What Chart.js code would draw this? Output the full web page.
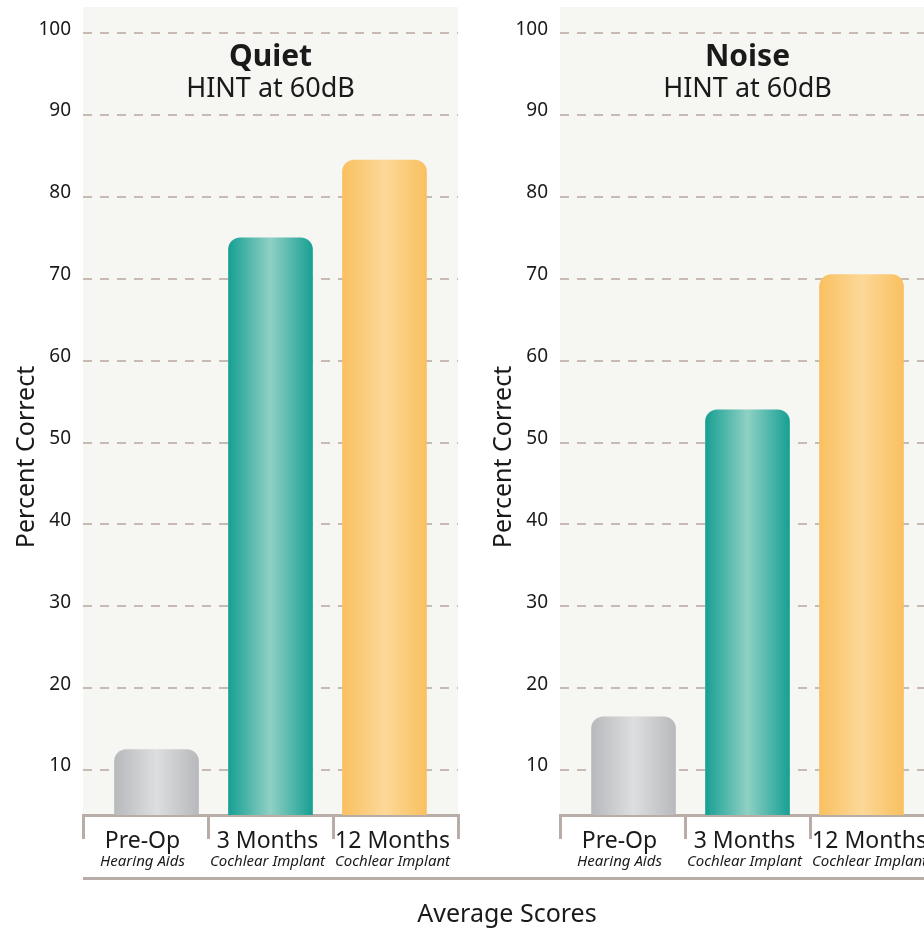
<!DOCTYPE html>
<html>
<head>
<meta charset="utf-8">
<script src="https://cdn.jsdelivr.net/npm/chart.js@4"></script>
<style>
  html, body { margin: 0; padding: 0; background: #fff; }
  body { width: 924px; height: 928px; position: relative; overflow: hidden; font-family: "Noto Sans", sans-serif; }
  .panel { position: absolute; top: 0; width: 470px; height: 928px; }
  #quietWrap { left: 0; }
  #noiseWrap { left: 477px; }
  #baseLine { position: absolute; left: 83px; top: 877px; width: 841px; height: 3px; background: #b9aea7; }
  #xTitle { position: absolute; left: 0; top: 895px; width: 1014px; text-align: center; font-size: 25px; line-height: 34px; color: #1a1a1a; }
</style>
</head>
<body>
<div class="panel" id="quietWrap"><canvas id="quietChart" width="470" height="928"></canvas></div>
<div class="panel" id="noiseWrap"><canvas id="noiseChart" width="470" height="928"></canvas></div>
<div id="baseLine"></div>
<div id="xTitle">Average Scores</div>
<script>
// data
const categories = ['Pre-Op', '3 Months', '12 Months'];
const subLabels = ['Hearing Aids', 'Cochlear Implant', 'Cochlear Implant'];
const quietScores = [12.5, 75, 84.5];
const noiseScores = [16.5, 54, 70.5];
const tickValues = [10, 20, 30, 40, 50, 60, 70, 80, 90, 100];

// bar gradients: edge colour, centre colour
const barShades = [
    ['#b8b9bc', '#dddedf'],
    ['#17a093', '#8fd0c4'],
    ['#f9c060', '#fcd898']
];
const BAR_W = 84;

const panelPlugin = {
    id: 'panelDecor',
    beforeDraw(chart){
        const a = chart.chartArea, c = chart.ctx;
        c.save();
        c.fillStyle = '#f6f6f2';
        c.fillRect(a.left, a.top, a.right - a.left, a.bottom - a.top);
        c.restore();
    },
    afterDraw(chart, args, opts){
        const a = chart.chartArea, c = chart.ctx;
        const cx = (a.left + a.right) / 2;
        c.save();
        c.fillStyle = '#1a1a1a';
        c.textAlign = 'center';
        c.textBaseline = 'middle';
        c.font = 'bold 30px "Noto Sans"';
        c.fillText(opts.title, cx, 57);
        c.font = '27px "Noto Sans"';
        c.fillText(opts.subtitle, cx, 89);

        // category labels with italic sub line
        const xs = chart.scales.x;
        categories.forEach(function(lab, i){
            const x = xs.getPixelForValue(i) - 3;
            c.font = '23px "Noto Sans"';
            c.fillText(lab, x, 841);
            c.font = 'italic 15px "Noto Sans"';
            c.fillText(subLabels[i], x, 862);
        });

        // y axis title
        c.translate(27, 457);
        c.rotate(-Math.PI / 2);
        c.font = '25px "Noto Sans"';
        c.fillText('Percent Correct', 0, 0);
        c.restore();
    }
};

function barFill(context){
    const chart = context.chart, sc = chart.scales.xb;
    const sh = barShades[context.dataIndex] || barShades[0];
    if(!sc) return sh[0];
    const x = sc.getPixelForValue(context.dataIndex);
    if(!isFinite(x)) return sh[0];
    const g = chart.ctx.createLinearGradient(x - BAR_W / 2, 0, x + BAR_W / 2, 0);
    g.addColorStop(0, sh[0]);
    g.addColorStop(0.5, sh[1]);
    g.addColorStop(1, sh[0]);
    return g;
}

function makeChart(id, title, scores){
    const ctx = document.getElementById(id);
    return new Chart(ctx, {
        type: 'bar',
        data: {
            labels: categories,
            datasets: [{
                data: scores.map(function(v, i){ return { x: i, y: v }; }),
                xAxisID: 'xb',
                barThickness: BAR_W,
                borderRadius: { topLeft: 12, topRight: 12, bottomLeft: 0, bottomRight: 0 },
                borderSkipped: 'bottom',
                backgroundColor: barFill
            }]
        },
        options: {
            responsive: false,
            animation: false,
            layout: { padding: { top: 7, right: 12, left: 0, bottom: 0 } },
            plugins: {
                legend: { display: false },
                tooltip: { enabled: false },
                panelDecor: { title: title, subtitle: 'HINT at 60dB' }
            },
            scales: {
                x: {
                    type: 'category',
                    offset: true,
                    grid: { offset: true, drawOnChartArea: false, drawTicks: true, tickLength: 24, color: '#b9aea7', lineWidth: 3 },
                    border: { display: true, color: '#b9aea7', width: 3 },
                    ticks: { display: false },
                    afterFit: function(s){ s.height = 113; }
                },
                xb: {
                    type: 'linear',
                    display: false,
                    offset: false,
                    grid: { offset: false },
                    min: -0.645,
                    max: 2.645
                },
                y: {
                    min: 4.5,
                    max: 103.2,
                    afterBuildTicks: function(s){ s.ticks = tickValues.map(function(v){ return { value: v }; }); },
                    grid: { color: '#c6bab2', lineWidth: 2, drawTicks: false },
                    border: { display: false, dash: [9, 8] },
                    ticks: { padding: 12, labelOffset: -4, color: '#1a1a1a', font: { family: 'Noto Sans', size: 19 } },
                    afterFit: function(s){ s.width = 83; s.paddingTop = 0; s.paddingBottom = 0; }
                }
            }
        },
        plugins: [panelPlugin]
    });
}

document.addEventListener('DOMContentLoaded', function(){
    makeChart('quietChart', 'Quiet', quietScores);
    makeChart('noiseChart', 'Noise', noiseScores);
});
</script>
</body>
</html>
